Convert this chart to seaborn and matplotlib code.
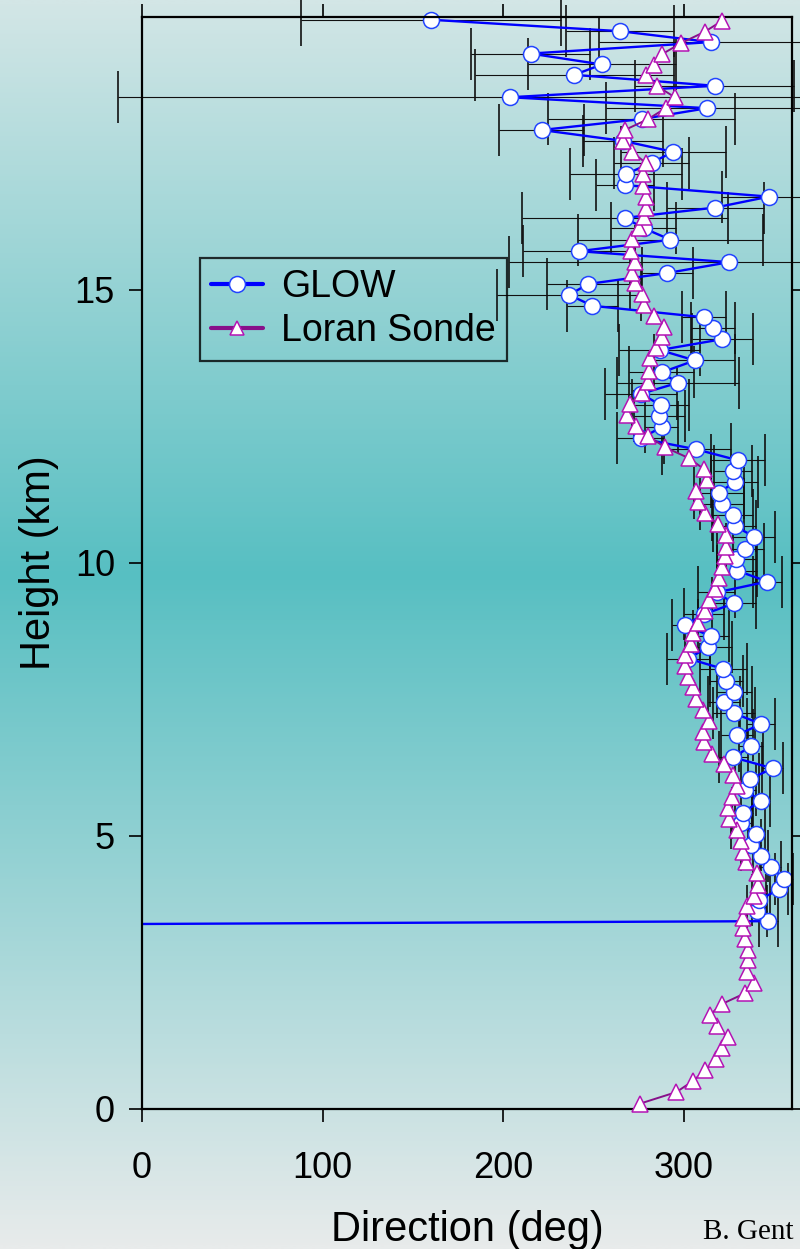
import numpy as np
import pandas as pd
import matplotlib.pyplot as plt
import seaborn as sns
from matplotlib.lines import Line2D
from matplotlib.colors import LinearSegmentedColormap
from matplotlib.transforms import Bbox, TransformedBbox

# Loran sonde profile (height km, direction deg)
sonde_km = [0.10, 0.31, 0.51, 0.71, 0.92, 1.11, 1.31, 1.52, 1.72, 1.92, 2.12, 2.31, 2.51, 2.72, 2.91, 3.11, 3.31,
            3.50, 3.71, 3.91, 4.11, 4.32, 4.52, 4.71, 4.91, 5.11, 5.31, 5.52, 5.72, 5.92, 6.12, 6.31, 6.51, 6.73,
            6.91, 7.11, 7.31, 7.51, 7.72, 7.92, 8.11, 8.31, 8.51, 8.71, 8.91, 9.12, 9.32, 9.52, 9.72, 9.92, 10.12,
            10.30, 10.51, 10.71, 10.92, 11.12, 11.32, 11.52, 11.72, 11.92, 12.12, 12.33, 12.51, 12.71, 12.91, 13.11, 13.32, 13.52,
            13.75, 13.93, 14.13, 14.33, 14.52, 14.73, 14.93, 15.12, 15.32, 15.52, 15.72, 15.93, 16.13, 16.33, 16.51, 16.71, 16.91,
            17.12, 17.32, 17.53, 17.73, 17.93, 18.13, 18.33, 18.53, 18.74, 18.93, 19.12, 19.32, 19.52, 19.73, 19.93]
sonde_dir = [276, 296, 305, 312, 318, 321.5, 324.6, 318.6, 314.5, 321, 334, 339, 335, 335.5, 335.7, 334, 333,
             332.6, 335, 339, 341, 340.7, 334.4, 332.6, 331.7, 329.6, 325, 324.3, 326.5, 329.8, 327.4, 322.4, 315.5, 311.2,
             310.8, 313.9, 310.8, 307.1, 305.3, 302.5, 301, 301, 304, 304.9, 308, 312, 314, 317.3, 319.5, 321, 323,
             323.7, 323.2, 318.8, 311.7, 307.7, 306.8, 312.7, 311.2, 302.9, 289.6, 280.3, 273.4, 268.8, 270.2, 276.7, 280.3, 280.7,
             281.3, 284.4, 288.1, 289.2, 283.5, 278.1, 276.7, 273, 271.5, 273, 270.8, 271.2, 275.4, 278.1, 279.4, 279.1, 277.6,
             277.2, 279.4, 271.2, 266.2, 267.4, 280.3, 290, 295.1, 285, 279.1, 283.7, 288.1, 298.5, 311.7, 321.3]

# GLOW lidar profile (-999 = missing value)
glow_km = [3.24, 3.44, 3.63, 3.83, 4.02, 4.22, 4.43, 4.63, 4.84, 5.03,
           5.23, 5.43, 5.64, 5.84, 6.04, 6.24, 6.44, 6.64, 6.85, 7.05,
           7.25, 7.45, 7.64, 7.84, 8.06, 8.25, 8.46, 8.66, 8.86, 9.06,
           9.26, 9.46, 9.66, 9.86, 10.07, 10.25, 10.48, 10.68, 10.88, 11.08,
           11.29, 11.48, 11.69, 11.88, 12.08, 12.28, 12.49, 12.69, 12.89, 13.10,
           13.30, 13.49, 13.71, 13.90, 14.10, 14.30, 14.50, 14.71, 14.91, 15.11,
           15.31, 15.51, 15.71, 15.92, 16.13, 16.32, 16.51, 16.71, 16.92, 17.12,
           17.33, 17.53, 17.73, 17.93, 18.13, 18.33, 18.53, 18.74, 18.94, 19.13,
           19.33, 19.54, 19.74, 19.95]
glow_dir = [-999, 346.8, 340.7, 341.7, 352.7, 355.5, 348.3, 342.6, 337.5, 340.3,
            332, 332.6, 342.7, 334.2, 336.6, 349.2, 327.4, 337.2, 329.6, 342.9,
            327.8, 322.2, 328, 323.7, 321.9, 302.5, 313.6, 315.1, 300.7, 311.2,
            327.8, 318.2, 346.4, 329.6, 329.2, 333.9, 339, 328.3, 327.1, 321.2,
            319.5, 328.3, 327.4, 330.2, 307.1, 276.3, 287.8, 286.5, 287.2, 276.5,
            296.8, 287.8, 306.2, 286.8, 321.5, 316.3, 311.2, 249.5, 236.6, 247.1,
            290.9, 325.2, 242.1, 292.7, 278, 267.4, 317.6, 347.3, 267.4, 268,
            282.2, 294.2, 266.5, 221.3, 276.7, 313, 203.8, 317.3, 239.4, 254.7,
            215.2, 314.9, 264.7, 159.9]
glow_err = [np.nan, 5.2, 5.5, 4, 5, 5, 5.8, 4.2, 5.5, 4.5,
            6, 6, 5, 6, 5, 6, 8, 6.5, 9, 7.6,
            11.5, 9, 9.6, 9, 13, 12, 13, 10, 7, 11,
            12, 10.5, 8, 11, 11, 10.5, 11.5, 12, 11.5, 12,
            14, 13, 10.5, 15, 19, 13, 9, 14, 16, 20,
            34, 18, 22.5, 22.5, 17, 12, 12, 14, 40, 23,
            14, 122, 31, 51, 18, 57, 27, 26, 16, 31,
            21, 29, 22, 23.5, 52, 56, 217, 44, 55, 41,
            33, 62, 30, 72]

x_ticks = [0, 100, 200, 300]
y_ticks = [0, 5, 10, 15]

glow = pd.DataFrame({'km': glow_km, 'dir': glow_dir, 'err': glow_err})
sonde = pd.DataFrame({'km': sonde_km, 'dir': sonde_dir})

sns.set_style("ticks")
plt.rcParams['font.family'] = ['Liberation Sans', 'DejaVu Sans']
plt.rcParams['text.color'] = 'black'
plt.rcParams['axes.labelcolor'] = 'black'

fig = plt.figure(figsize=(8, 12.49), dpi=100)

# background gradient
bg = fig.add_axes([0, 0, 1, 1], zorder=-10)
bg.axis('off')
cmap = LinearSegmentedColormap.from_list('bg', [(0.0, '#D3E6E6'), (0.46, '#57BFC2'), (1.0, '#E8EBEB')])
bg.imshow(np.linspace(0, 1, 512).reshape(-1, 1), aspect='auto', cmap=cmap, extent=[0, 1, 0, 1])

ax = fig.add_axes([0.1775, 0.1121, 0.8125, 0.8743])
ax.set_facecolor('none')

blue = '#0000FF'
purple = '#87108A'
magenta = '#B414B4'

ok = glow['err'].notna()
ax.errorbar(glow.loc[ok, 'dir'], glow.loc[ok, 'km'], xerr=glow.loc[ok, 'err'], fmt='none',
            ecolor='#111111', elinewidth=0.8, capsize=19, capthick=1.2, clip_on=False, zorder=1)

clip = TransformedBbox(Bbox([[0, -0.02], [1, 1.02]]), ax.transAxes)

sns.lineplot(data=glow, x='dir', y='km', sort=False, estimator=None, ax=ax, color=blue, lw=1.7,
             marker='o', markersize=11.5, markerfacecolor='white', markeredgecolor='#2244FF',
             markeredgewidth=1.1, zorder=2)
ax.lines[-1].set_clip_box(clip)

sns.lineplot(data=sonde, x='dir', y='km', sort=False, estimator=None, ax=ax, color=purple, lw=1.4,
             marker='^', markersize=11, markerfacecolor='white', markeredgecolor=magenta,
             markeredgewidth=1.1, zorder=3)
ax.lines[-1].set_clip_box(clip)

ax.set_xlim(0, 360)
ax.set_ylim(0, 20)
ax.set_xticks(x_ticks)
ax.set_yticks(y_ticks)
ax.tick_params(direction='out', length=9.5, width=1.2, top=True, right=True,
               labeltop=False, labelright=False, labelsize=26, colors='black')
ax.tick_params(axis='x', pad=21)
ax.tick_params(axis='y', pad=10)
for s in ax.spines.values():
    s.set_linewidth(1.6)
    s.set_color('black')

ax.set_xlabel('Direction (deg)', fontsize=30, labelpad=17, color='black')
ax.set_ylabel('Height (km)', fontsize=30, labelpad=11, color='black')

handles = [
    Line2D([], [], color=blue, lw=3, marker='o', markersize=11.5, markerfacecolor='white',
           markeredgecolor='#2244FF', markeredgewidth=1.1),
    Line2D([], [], color=purple, lw=3, marker='^', markersize=10, markerfacecolor='white',
           markeredgecolor=magenta, markeredgewidth=1.1),
]
leg = ax.legend(handles, ['GLOW', 'Loran Sonde'], loc='upper left', bbox_to_anchor=(0.0892, 0.7793),
                borderaxespad=0, fontsize=27, frameon=True, fancybox=False, borderpad=0.3,
                handlelength=1.39, handletextpad=0.48, labelspacing=0.22)
leg.get_frame().set_facecolor('none')
leg.get_frame().set_edgecolor('black')
leg.get_frame().set_linewidth(1.6)
for t in leg.get_texts():
    t.set_color('black')

fig.text(703 / 800, 1 - 1232 / 1249, 'B. Gent', fontfamily='Liberation Serif', fontsize=21,
         ha='left', va='center', color='black')

fig.savefig('out.png', dpi=100)
